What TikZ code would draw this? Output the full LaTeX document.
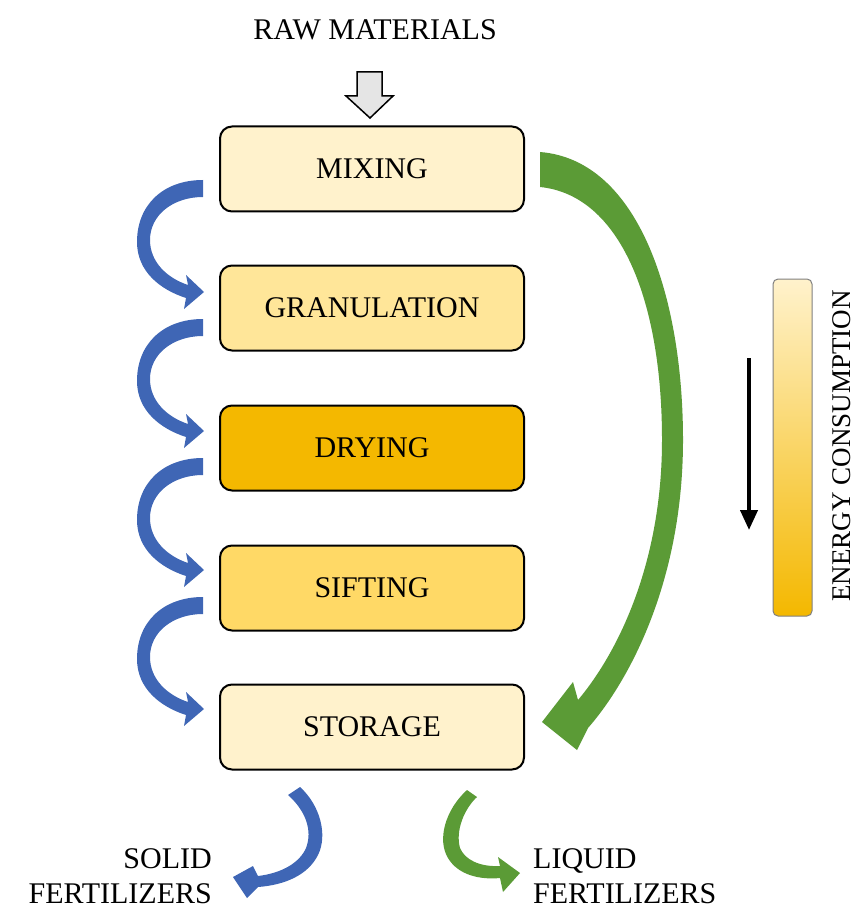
\documentclass[tikz,border=0pt]{standalone}
\usepackage{fontspec}
\setmainfont{Liberation Serif}
\usetikzlibrary{arrows.meta}
\definecolor{boxA}{HTML}{FFF2CC}
\definecolor{boxB}{HTML}{FFE699}
\definecolor{boxC}{HTML}{F4B800}
\definecolor{boxD}{HTML}{FFD966}
\definecolor{blueA}{HTML}{3F66B5}
\definecolor{greenA}{HTML}{5B9B36}
\newcommand\bluecurl[1]{%
  \fill[blueA, shift={(203,#1)}] (0,0) .. controls (-40,0) and (-66,25) .. (-66,62)
    .. controls (-66,92) and (-42,110) .. (-17,118) -- (-19,129) -- (1,112) -- (-17,95) -- (-15,105)
    .. controls (-36,98) and (-53,82) .. (-53,60) .. controls (-53,35) and (-30,17) .. (0,17) -- cycle;}
\begin{document}
\begin{tikzpicture}[x=1pt,y=-1pt,
  stepbox/.style={draw=black, line width=2pt, rounded corners=12pt, minimum width=304pt, minimum height=85pt, font=\fontsize{30}{36}\selectfont, text=black, inner sep=0pt},
  lbl/.style={font=\fontsize{30}{35}\selectfont, text=black, inner sep=0pt}]
\useasboundingbox (0,0) rectangle (857,909);
% boxes
\node[stepbox, fill=boxA] (mix) at (372,169) {MIXING};
\node[stepbox, fill=boxB] (gran) at (372,308) {GRANULATION};
\node[stepbox, fill=boxC] (dry) at (372,448) {DRYING};
\node[stepbox, fill=boxD] (sift) at (372,588) {SIFTING};
\node[stepbox, fill=boxA] (stor) at (372,727) {STORAGE};
% raw materials
\node[lbl] (raw) at (375,30) {RAW MATERIALS};
\draw[fill=gray!20, line width=1.5pt, line join=miter] (357,72) -- (382,72) -- (382,96) -- (393,96) -- (370,118) -- (346,96) -- (357,96) -- cycle;
% blue curls
\bluecurl{180}
\bluecurl{319}
\bluecurl{458}
\bluecurl{597}
% green big arrow
\fill[greenA] (540,152) .. controls (640,160) and (683,300) .. (683,440)
  .. controls (683,580) and (630,680) .. (588,728) -- (577,750) -- (542,722) -- (573,682) -- (578,700)
  .. controls (620,650) and (662,560) .. (662,440) .. controls (662,300) and (620,195) .. (540,187) -- cycle;
% bottom blue
\fill[blueA] (300,787) .. controls (320,805) and (328,835) .. (318,855) .. controls (308,875) and (285,885) .. (258,887)
  -- (247,898) -- (233,877) -- (253,866) -- (258,876)
  .. controls (283,873) and (300,862) .. (306,848) .. controls (313,830) and (305,810) .. (288,795) -- cycle;
% bottom green
\fill[greenA] (467,790) .. controls (445,810) and (437,840) .. (448,858) .. controls (458,875) and (480,880) .. (500,878)
  -- (503,892) -- (520,873) -- (498,857) -- (500,866)
  .. controls (480,867) and (465,860) .. (460,848) .. controls (455,830) and (465,808) .. (477,797) -- cycle;
\node[lbl, align=right, anchor=east] (solid) at (212,876) {SOLID\\FERTILIZERS};
\node[lbl, align=left, anchor=west] (liquid) at (533,876) {LIQUID\\FERTILIZERS};
% energy bar
\node[draw=gray, line width=1pt, rounded corners=5pt, minimum width=39pt, minimum height=337pt, top color=boxA, bottom color=boxC, inner sep=0pt] (bar) at (792.5,447.5) {};
\coordinate (ea) at (749,358);
\coordinate (eb) at (749,530);
\draw[line width=4pt, -{Triangle[length=20pt,width=17pt]}] (ea) -- (eb);
\node[lbl, rotate=90, font=\fontsize{27}{32}\selectfont] (energy) at (842,446) {ENERGY CONSUMPTION};
\end{tikzpicture}
\end{document}
